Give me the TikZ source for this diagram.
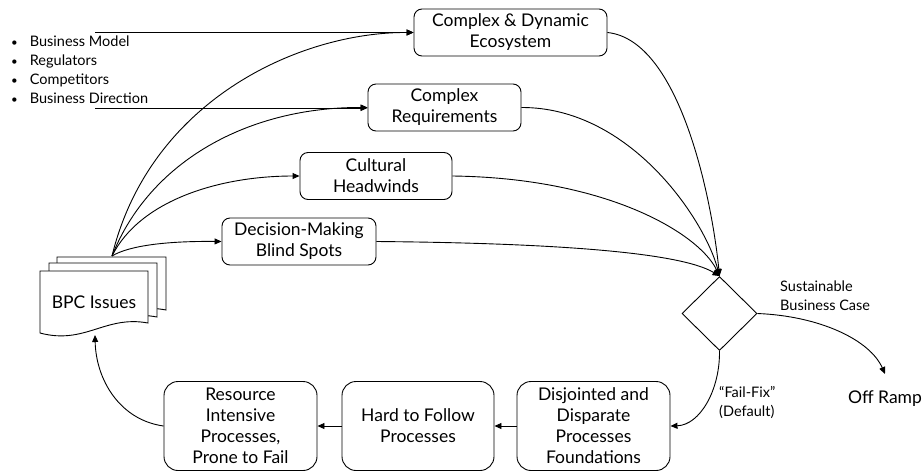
\documentclass[tikz,border=0pt]{standalone}
\usepackage{fontspec}
\setmainfont{Lato}
\usetikzlibrary{shapes.geometric,arrows.meta}
\newcommand{\blt}{{\fontsize{11.5}{19}\selectfont\textbullet}\hspace{12pt}}
\begin{document}
\begin{tikzpicture}[x=1pt,y=-1pt,
  box/.style={draw,line width=0.9pt,rounded corners=8pt,align=center,inner sep=0pt,
    font=\fontsize{17.5}{21}\selectfont},
  topbox/.style={box,minimum height=47pt},
  lowbox/.style={box,rounded corners=14pt,minimum width=153pt,minimum height=89pt},
  lbl/.style={font=\fontsize{14.5}{19}\selectfont,align=left,inner sep=0pt},
  conn/.style={line width=0.9pt,-{Triangle[length=7pt,width=6pt]}},
  doc/.style={draw,line width=0.9pt,fill=white}]
\useasboundingbox (0,0) rectangle (923,472);
% top boxes
\node[topbox,minimum width=193pt] (eco) at (510.5,32.5) {Complex \& Dynamic\\Ecosystem};
\node[topbox,minimum width=153pt] (req) at (444.5,107.5) {Complex\\Requirements};
\node[topbox,minimum width=152pt] (cul) at (376,176) {Cultural\\Headwinds};
\node[topbox,minimum width=154pt] (dec) at (299,241.5) {Decision-Making\\Blind Spots};
% bottom boxes
\node[lowbox] (dis) at (593.5,426) {Disjointed and\\Disparate\\Processes\\Foundations};
\node[lowbox,minimum width=152pt] (hard) at (418,426) {Hard to Follow\\Processes};
\node[lowbox] (res) at (240.5,426) {Resource\\Intensive\\Processes,\\Prone to Fail};
% diamond
\node[draw,line width=0.9pt,diamond,minimum width=75pt,minimum height=74pt,inner sep=0pt] (dia) at (719.5,313.5) {};
% BPC issues multi-document
\draw[doc] (57,257) -- (166,257) -- (166,310) .. controls (130,303) and (100,320) .. (57,318) -- cycle;
\draw[doc] (49,263) -- (157,263) -- (157,317) .. controls (120,310) and (90,327) .. (49,325) -- cycle;
\draw[doc] (40,271) -- (148,271) -- (148,323) .. controls (105,315) and (85,345) .. (40,333) -- cycle;
\node[font=\fontsize{17.5}{21}\selectfont,inner sep=0pt] (bpc) at (94,302) {BPC Issues};
\coordinate (bpctop) at (112,256);
\coordinate (bpcbot) at (95,335);
% bullet list
\node[lbl,anchor=north west] (list) at (11,36) {\blt Business Model\\\blt Regulators\\\blt Competitors\\\blt Business Direction};
\coordinate (l1) at (95,32.5);
\coordinate (l2) at (95,108);
% labels
\node[lbl,anchor=north west] (sus) at (780,281) {Sustainable\\Business Case};
\node[lbl,anchor=north west] (ff) at (719,386) {“Fail-Fix”\\(Default)};
\node[font=\fontsize{17.5}{21}\selectfont,inner sep=0pt] (off) at (885,399) {Off Ramp};
% connectors from list
\draw[conn] (l1) -- (eco.west);
\draw[conn] (l2) -- (req.west |- l2);
% from BPC
\draw[conn] (bpctop) .. controls (150,100) and (300,32) .. (eco.west);
\draw[conn] (bpctop) .. controls (150,160) and (250,107) .. (req.west);
\draw[conn] (bpctop) .. controls (140,200) and (220,176) .. (cul.west);
\draw[conn] (bpctop) .. controls (130,245) and (170,241) .. (dec.west);
% to diamond
\draw[conn] (eco.east) .. controls (680,40) and (712,200) .. (dia.north);
\draw[conn] (req.east) .. controls (630,107) and (705,220) .. (dia.north);
\draw[conn] (cul.east) .. controls (610,178) and (700,235) .. (dia.north);
\draw[conn] (dec.east) .. controls (550,243) and (680,252) .. (dia.north);
% diamond outputs
\draw[conn] (dia.east) .. controls (820,316) and (870,340) .. (885,374);
\draw[conn] (dia.south) .. controls (720,390) and (700,425) .. (dis.east);
% bottom chain
\draw[conn] (dis.west) -- (hard.east);
\draw[conn] (hard.west) -- (res.east);
\draw[conn] (res.west) .. controls (120,420) and (96,380) .. (bpcbot);
\end{tikzpicture}
\end{document}
